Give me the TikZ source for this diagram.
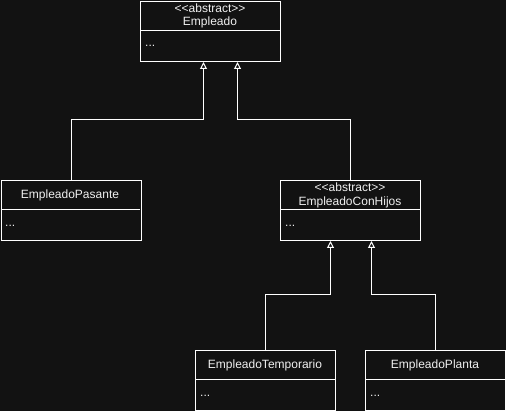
\documentclass[tikz,border=0pt]{standalone}
\usepackage{fontspec}
\setmainfont{Liberation Sans}[Ligatures=NoCommon]
\usetikzlibrary{arrows.meta}
\definecolor{bg}{RGB}{18,18,18}
\definecolor{fg}{RGB}{240,240,240}
\newcommand{\stereo}{{<}{<}abstract{>}{>}}
\begin{document}
\begin{tikzpicture}[x=1pt,y=-1pt,
  classbox/.style={draw=white, line width=1pt, minimum width=140pt, minimum height=60pt, inner sep=0pt, anchor=north west},
  lbl/.style={text=fg, font=\fontsize{12pt}{14pt}\selectfont, inner sep=0pt},
  dots/.style={text=fg, font=\fontsize{12pt}{14pt}\selectfont, inner sep=0pt, anchor=west},
  inh/.style={draw=white, line width=1pt, -{Triangle[open, length=7pt, width=7pt, fill=bg]}}]
\fill[bg] (0,0) rectangle (506,411);
\useasboundingbox (0,0) rectangle (506,411);
% Empleado
\node[classbox] (emp) at (140,1) {};
\draw[white, line width=1pt] (140,31) -- (280,31);
\node[lbl] (empst) at (210,8) {\stereo};
\node[lbl] (empn) at (210,22) {Empleado};
\node[dots] (empd) at (145,46) {...};
% EmpleadoPasante
\node[classbox] (pas) at (0.5,180) {};
\draw[white, line width=1pt] (0.5,210) -- (140,210);
\node[lbl] (pasn) at (70,195) {EmpleadoPasante};
\node[dots] (pasd) at (5,226) {...};
% EmpleadoConHijos
\node[classbox] (con) at (280,180) {};
\draw[white, line width=1pt] (280,210) -- (420,210);
\node[lbl] (const) at (350,187) {\stereo};
\node[lbl] (conn) at (350,202) {EmpleadoConHijos};
\node[dots] (cond) at (285,226) {...};
% EmpleadoTemporario
\node[classbox] (tem) at (195,350) {};
\draw[white, line width=1pt] (195,380) -- (335,380);
\node[lbl] (temn) at (265,365) {EmpleadoTemporario};
\node[dots] (temd) at (200,396) {...};
% EmpleadoPlanta
\node[classbox] (pla) at (365,350) {};
\draw[white, line width=1pt] (365,380) -- (505,380);
\node[lbl] (plan) at (435,365) {EmpleadoPlanta};
\node[dots] (plad) at (370,396) {...};
% inheritance
\draw[inh] (pas.north) -- ++(0,-60) -| ([xshift=-7pt]emp.south);
\draw[inh] (con.north) -- ++(0,-60) -| ([xshift=27pt]emp.south);
\draw[inh] (tem.north) -- ++(0,-55) -| ([xshift=-20pt]con.south);
\draw[inh] (pla.north) -- ++(0,-55) -| ([xshift=21pt]con.south);
\end{tikzpicture}
\end{document}
